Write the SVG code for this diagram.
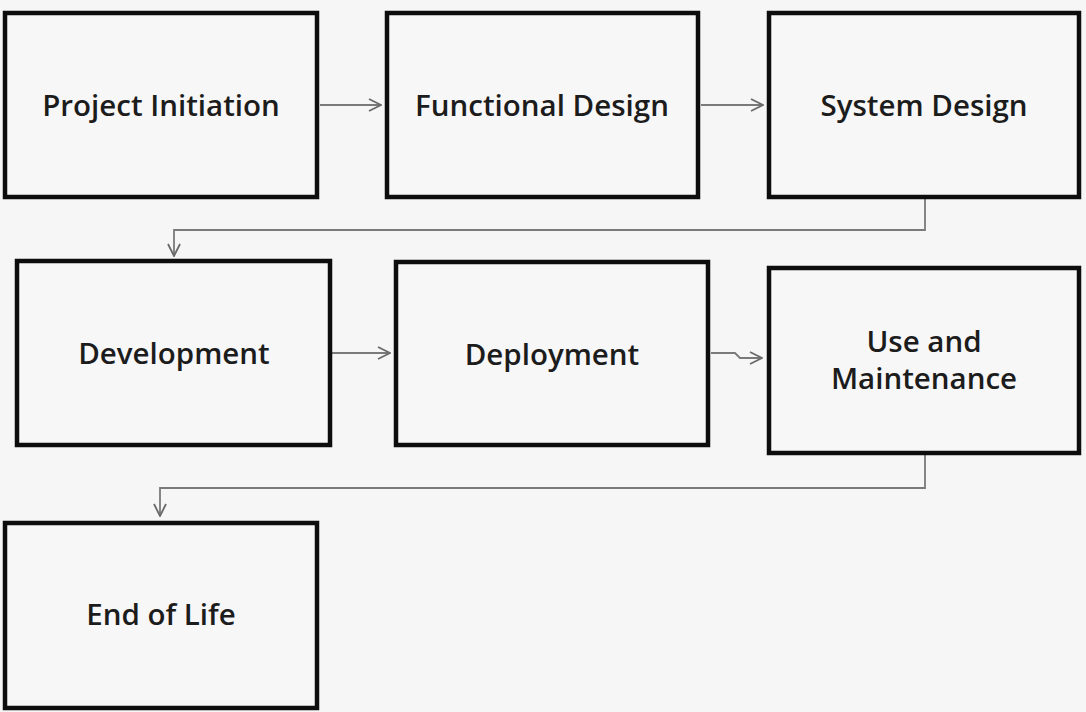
<svg xmlns="http://www.w3.org/2000/svg" width="1086" height="712" viewBox="0 0 1086 712">
<style>
.box{fill:#f7f7f7;stroke:#0d0d0d;stroke-width:4.5}
.lbl{font-family:"Open Sans","Noto Sans",sans-serif;font-weight:600;font-size:29.5px;fill:#1c1c1c;text-anchor:middle;dominant-baseline:central}
.con{fill:none;stroke:#7a7a7a;stroke-width:1.8}
</style>
<defs>
<marker id="ah" viewBox="0 0 14 14" refX="13" refY="7" markerWidth="14" markerHeight="14" markerUnits="userSpaceOnUse" orient="auto">
<path d="M1,1 L13,7 L1,13" fill="none" stroke="#6a6a6a" stroke-width="1.8"/>
</marker>
</defs>
<rect width="1086" height="712" fill="#f6f6f6"/>
<g id="connectors">
<path class="con" d="M320,105 H381" marker-end="url(#ah)"/>
<path class="con" d="M701,105 H763" marker-end="url(#ah)"/>
<path class="con" d="M925,199 V230 H174 V256" marker-end="url(#ah)"/>
<path class="con" d="M332,353 H390" marker-end="url(#ah)"/>
<path class="con" d="M711,353 H735 L740,358 H762" marker-end="url(#ah)"/>
<path class="con" d="M925,455 V488 H160 V516" marker-end="url(#ah)"/>
</g>
<g id="n1"><rect class="box" x="5" y="13" width="312" height="184"/><text class="lbl" x="161" y="104">Project Initiation</text></g>
<g id="n2"><rect class="box" x="387" y="13" width="311" height="184"/><text class="lbl" x="542" y="104">Functional Design</text></g>
<g id="n3"><rect class="box" x="769" y="13" width="310" height="184"/><text class="lbl" x="924" y="104">System Design</text></g>
<g id="n4"><rect class="box" x="17" y="261" width="313" height="184"/><text class="lbl" x="174" y="352">Development</text></g>
<g id="n5"><rect class="box" x="396" y="262" width="312" height="183"/><text class="lbl" x="552" y="353">Deployment</text></g>
<g id="n6"><rect class="box" x="769" y="268" width="310" height="185"/><text class="lbl" x="924" y="340">Use and</text><text class="lbl" x="924" y="377">Maintenance</text></g>
<g id="n7"><rect class="box" x="5" y="523" width="312" height="185"/><text class="lbl" x="161" y="613">End of Life</text></g>
</svg>
